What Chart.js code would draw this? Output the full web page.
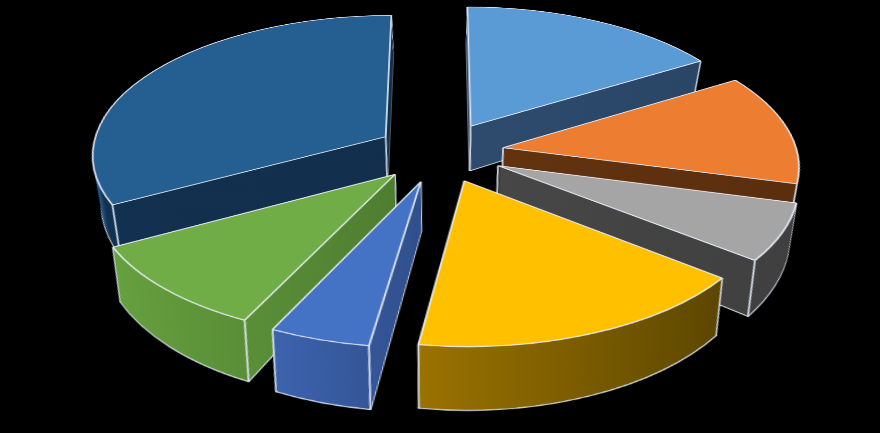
<!DOCTYPE html>
<html>
<head>
<meta charset="utf-8">
<script src="https://cdn.jsdelivr.net/npm/chart.js"></script>
<style>
  html, body { margin: 0; padding: 0; background: #000; }
  #wrap { position: relative; width: 880px; height: 433px; overflow: hidden; background: #000; }
  /* the pie is drawn flat (seen from above) and tilted back in perspective */
  #pie3d {
    position: absolute; left: -60px; top: -328px;
    transform-origin: 500px 480px;
    transform: perspective(2200px) rotateX(61.8deg);
  }
</style>
</head>
<body>
<div id="wrap"><canvas id="pie3d" width="1000" height="960"></canvas></div>

<script>
    // slices, clockwise from 12 o'clock
    const labels = ['A', 'B', 'C', 'D', 'E', 'F', 'G'];
    const values = [16.3, 12.8, 6.5, 16.7, 4.8, 10, 32.9];

    const topColors  = ['#5B9BD5', '#ED7D31', '#A5A5A5', '#FFC000', '#4472C4', '#70AD47', '#255E91'];
    // side colours: [left, right] of each slice's wall
    const sideColors = [
        ['#2E4B6D', '#2A4566'],
        ['#63330F', '#5A2E0E'],
        ['#474747', '#3F3F3F'],
        ['#9A7200', '#5C4600'],
        ['#3D63AE', '#304F8C'],
        ['#66A03F', '#4E7D2F'],
        ['#12304F', '#132C48']
    ];
    const EDGE = 'rgba(225,232,245,0.85)';

    const DEPTH = 95;      // thickness, in flat canvas px
    const EXPLODE = 64;    // how far each slice is pulled out
    const SHRINK = 0.063;  // bottom of the walls a bit narrower

    function moved(arc) {
        const mid = (arc.startAngle + arc.endAngle) / 2;
        return [arc.x + Math.cos(mid) * EXPLODE, arc.y + Math.sin(mid) * EXPLODE];
    }

    // draw one of the chart's arcs again, moved out along its middle angle
    function drawArc(ctx, arc, opts) {
        const p = moved(arc);
        const a = Object.create(arc);
        a.x = p[0];
        a.y = p[1];
        a.options = Object.assign({}, arc.options, opts);
        Chart.ArcElement.prototype.draw.call(a, ctx);
    }

    // apex and both rim corners of a moved arc
    function corners(arc) {
        const p = moved(arc), r = arc.outerRadius;
        return [p,
            [p[0] + r * Math.cos(arc.startAngle), p[1] + r * Math.sin(arc.startAngle)],
            [p[0] + r * Math.cos(arc.endAngle), p[1] + r * Math.sin(arc.endAngle)]];
    }

    function xRange(arc) {
        const p = moved(arc);
        let lo = p[0], hi = p[0];
        for (let k = 0; k <= 40; k++) {
            const t = arc.startAngle + (arc.endAngle - arc.startAngle) * k / 40;
            const x = p[0] + arc.outerRadius * Math.cos(t);
            lo = Math.min(lo, x);
            hi = Math.max(hi, x);
        }
        return [lo, hi];
    }

    const pie3d = {
        id: 'pie3d',
        beforeDatasetsDraw(chart) {
            const ctx = chart.ctx;
            const arcs = chart.getDatasetMeta(0).data;
            const cx = arcs[0].x, cy = arcs[0].y;
            const r = arcs[0].outerRadius + EXPLODE;

            const fills = arcs.map((arc, i) => {
                const xr = xRange(arc);
                const g = ctx.createLinearGradient(xr[0], 0, xr[1], 0);
                g.addColorStop(0, sideColors[i][0]);
                g.addColorStop(1, sideColors[i][1]);
                return g;
            });
            // dark blue: its outer rim on the far left is lighter than the cut face
            const gb = ctx.createLinearGradient(cx - r, 0, cx + r, 0);
            gb.addColorStop(0, '#245990');
            gb.addColorStop(0.03, '#22558A');
            gb.addColorStop(0.045, '#12304F');
            gb.addColorStop(1, '#132C48');
            fills[6] = gb;

            // walls, stacked from the bottom up
            for (let d = DEPTH; d >= 1; d--) {
                ctx.save();
                ctx.translate(cx, cy + d);
                ctx.scale(1 - SHRINK * d / DEPTH, 1);
                ctx.translate(-cx, -cy);
                arcs.forEach((arc, i) => {
                    drawArc(ctx, arc, {
                        backgroundColor: fills[i],
                        borderColor: d === DEPTH ? EDGE : fills[i],
                        borderWidth: d === DEPTH ? 2 : 0
                    });
                });
                // light vertical edges at the corners (hidden ones get covered by the next layer)
                ctx.fillStyle = EDGE;
                arcs.forEach(arc => {
                    corners(arc).forEach(c => ctx.fillRect(c[0] - 0.8, c[1] - 0.8, 1.6, 1.6));
                });
                ctx.restore();
            }
            // top faces
            arcs.forEach(arc => drawArc(ctx, arc, {}));
            return false;
        }
    };

    const data = {
        labels: labels,
        datasets: [{
            data: values,
            backgroundColor: topColors,
            borderColor: 'rgba(235,240,250,0.9)',
            borderWidth: 1.8,
            radius: 294,
            clip: false
        }]
    };

    const config = {
        type: 'pie',
        data: data,
        options: {
            responsive: false,
            animation: false,
            devicePixelRatio: 1,
            events: [],
            layout: { padding: 0 },
            plugins: {
                legend: { display: false },
                tooltip: { enabled: false }
            }
        },
        plugins: [pie3d]
    };

    const chart = new Chart(document.getElementById('pie3d'), config);
</script>
</body>
</html>
